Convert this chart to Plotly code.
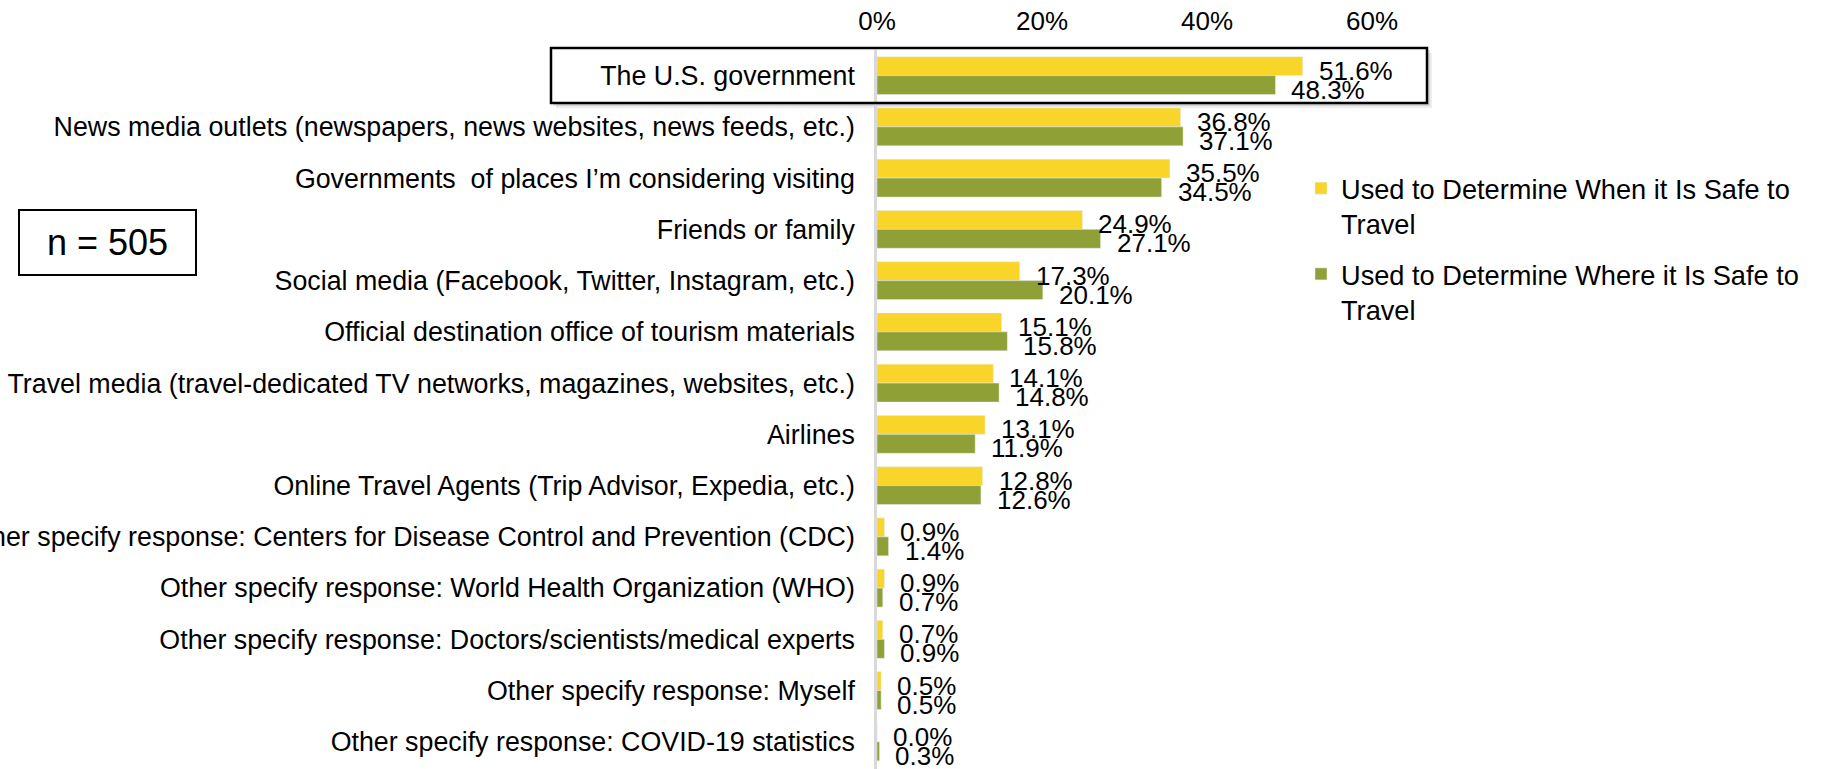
import plotly.graph_objects as go

# Survey: information sources used to judge travel safety (percent of respondents)
categories = [
    "The U.S. government",
    "News media outlets (newspapers, news websites, news feeds, etc.)",
    "Governments\u00a0 of places I\u2019m considering visiting",
    "Friends or family",
    "Social media (Facebook, Twitter, Instagram, etc.)",
    "Official destination office of tourism materials",
    "Travel media (travel-dedicated TV networks, magazines, websites, etc.)",
    "Airlines",
    "Online Travel Agents (Trip Advisor, Expedia, etc.)",
    "Other specify response: Centers for Disease Control and Prevention (CDC)",
    "Other specify response: World Health Organization (WHO)",
    "Other specify response: Doctors/scientists/medical experts",
    "Other specify response: Myself",
    "Other specify response: COVID-19 statistics",
]
when_safe = [51.6, 36.8, 35.5, 24.9, 17.3, 15.1, 14.1, 13.1, 12.8, 0.9, 0.9, 0.7, 0.5, 0.0]
where_safe = [48.3, 37.1, 34.5, 27.1, 20.1, 15.8, 14.8, 11.9, 12.6, 1.4, 0.7, 0.9, 0.5, 0.3]
series_names = [
    "Used to Determine When it Is Safe to<br>Travel",
    "Used to Determine Where it Is Safe to<br>Travel",
]
x_ticks = [0, 20, 40, 60]
x_tick_labels = ["0%", "20%", "40%", "60%"]
sample_note = "n = 505"

YELLOW = "#F9D52A"
GREEN = "#8FA136"
FONT = "Liberation Sans, Arial, sans-serif"

W, H = 1822, 769
ML, MR, MT, MB = 877, 450, 50, 0
PW, PH = W - ML - MR, H - MT - MB


def px_x(px):
    return (px - ML) / PW


def px_y(py):
    return 1 - (py - MT) / PH


fig = go.Figure()
fig.add_trace(go.Bar(
    y=categories, x=when_safe, orientation="h", name=series_names[0],
    marker_color=YELLOW, legendgroup="a",
))
fig.add_trace(go.Bar(
    y=categories, x=where_safe, orientation="h", name=series_names[1],
    marker_color=GREEN, legendgroup="b",
))

# value labels beside each bar end
annotations = []
for vals, dy in ((when_safe, 5), (where_safe, -14)):
    for cat, v in zip(categories, vals):
        annotations.append(dict(
            x=v, y=cat, xref="x", yref="y", text=f"{v:.1f}%",
            showarrow=False, xanchor="left", yanchor="middle",
            xshift=14, yshift=dy, font=dict(size=26, color="black", family=FONT),
        ))

# sample size note
annotations.append(dict(
    x=px_x(107.5), y=px_y(242.5), xref="paper", yref="paper", text=sample_note,
    showarrow=False, xanchor="center", yanchor="middle",
    font=dict(size=36, color="black", family=FONT),
))

shapes = [
    # soft shadow behind the highlight box
    dict(type="rect", xref="paper", yref="paper", layer="below",
         x0=px_x(556), x1=px_x(1432), y0=px_y(53), y1=px_y(108),
         line=dict(width=0), fillcolor="rgba(0,0,0,0.07)"),
    dict(type="rect", xref="paper", yref="paper", layer="below",
         x0=px_x(553), x1=px_x(1430), y0=px_y(50), y1=px_y(106),
         line=dict(width=0), fillcolor="rgba(0,0,0,0.10)"),
    dict(type="rect", xref="paper", yref="paper", layer="below",
         x0=px_x(551), x1=px_x(1427), y0=px_y(48), y1=px_y(103),
         line=dict(width=0), fillcolor="white"),
    # highlight box around the top row
    dict(type="rect", xref="paper", yref="paper", layer="above",
         x0=px_x(551), x1=px_x(1427), y0=px_y(48), y1=px_y(103),
         line=dict(color="black", width=2.5), fillcolor="rgba(0,0,0,0)"),
    # sample size box
    dict(type="rect", xref="paper", yref="paper", layer="above",
         x0=px_x(19), x1=px_x(196), y0=px_y(210), y1=px_y(275),
         line=dict(color="black", width=2), fillcolor="rgba(0,0,0,0)"),
]

fig.update_layout(
    width=W, height=H,
    margin=dict(l=ML, r=MR, t=MT, b=MB, pad=0, autoexpand=False),
    paper_bgcolor="white", plot_bgcolor="white",
    barmode="group", bargap=0.26, bargroupgap=0,
    font=dict(family=FONT, size=26, color="black"),
    xaxis=dict(
        side="top", range=[0, 60], tickvals=x_ticks, ticktext=x_tick_labels,
        showgrid=False, zeroline=False, showline=False, ticks="",
        tickfont=dict(size=26), ticklabelstandoff=14, fixedrange=True,
    ),
    yaxis=dict(
        autorange=False, range=[13.53, -0.5], type="category",
        showgrid=False, zeroline=False, showline=True,
        linecolor="#D9D9D9", linewidth=2.5, ticks="",
        tickfont=dict(size=26.8), ticklabelstandoff=14, automargin=False,
    ),
    legend=dict(
        x=px_x(1301), y=px_y(164), xanchor="left", yanchor="top",
        font=dict(size=27.2, family=FONT), traceorder="grouped",
        tracegroupgap=12, valign="top", bgcolor="rgba(0,0,0,0)",
    ),
    annotations=annotations,
    shapes=shapes,
    showlegend=True,
)

fig.write_html("out.html")
